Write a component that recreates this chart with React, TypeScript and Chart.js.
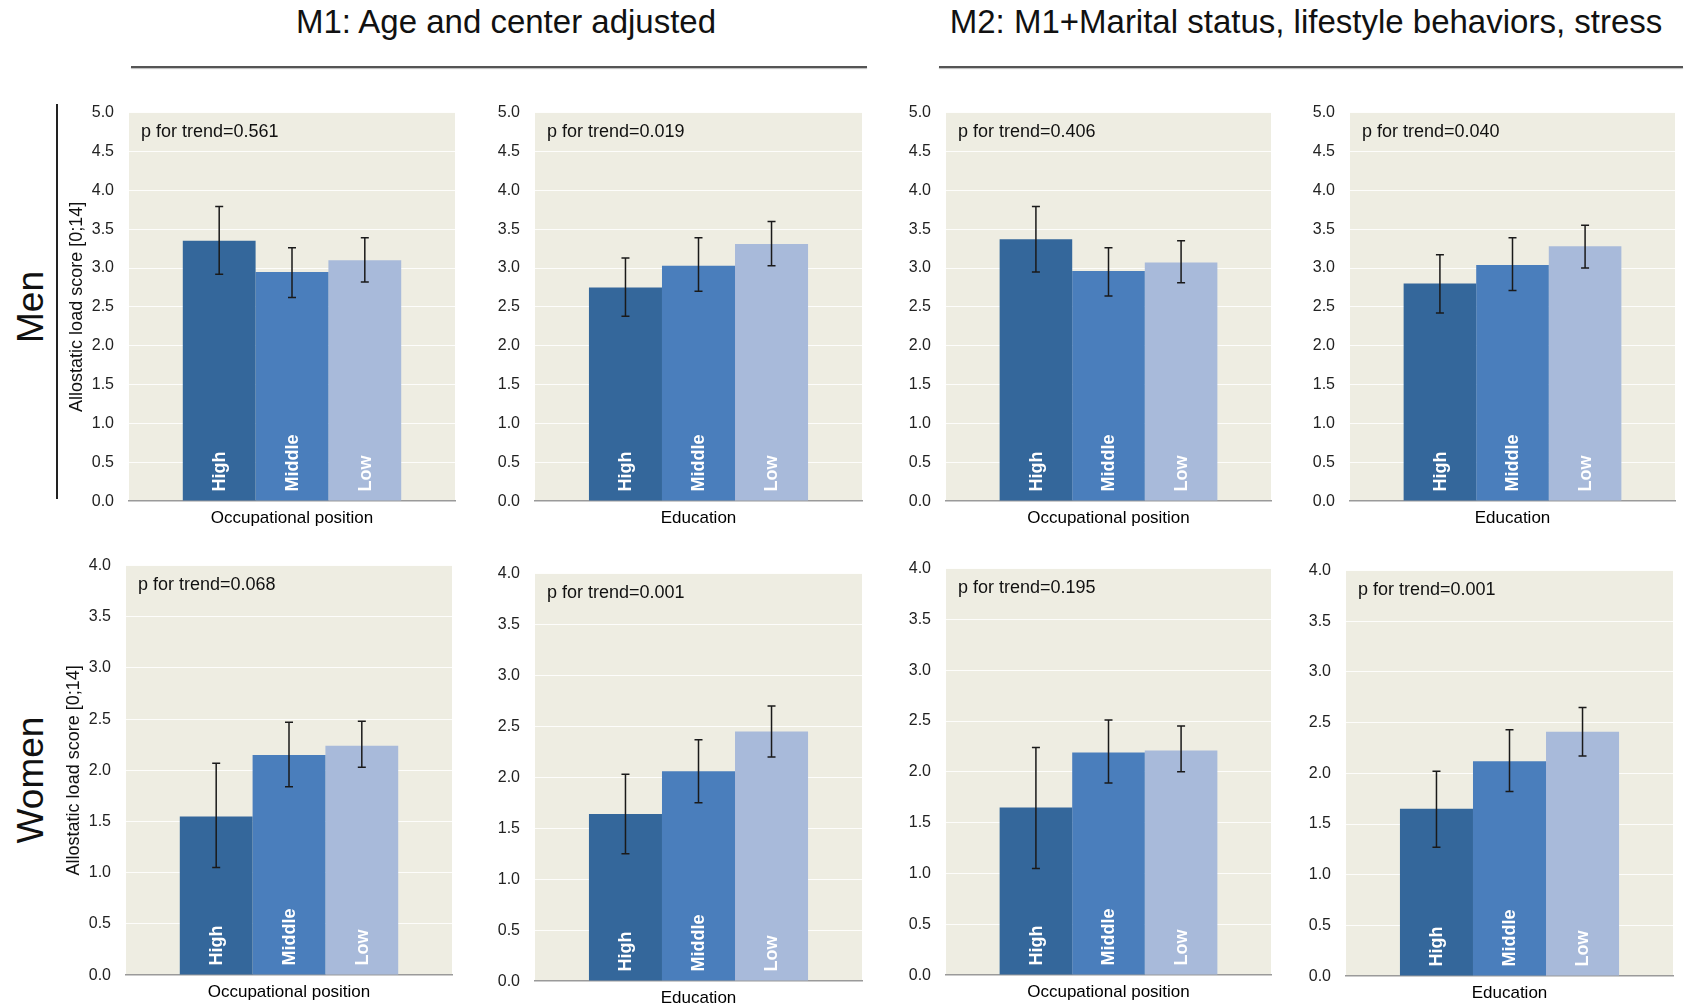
import React, { useEffect, useRef } from "react";
import { Chart, registerables } from "chart.js";

Chart.register(...registerables);

const groups = ["High", "Middle", "Low"];
const groupColors = ["#34679B", "#4A7EBC", "#A8BADA"];
const yTitle = "Allostatic load score [0;14]";
const xOcc = "Occupational position";
const xEdu = "Education";

// Men, M1
const menM1Occ = [3.35, 2.95, 3.1];
const menM1OccLo = [2.92, 2.62, 2.82];
const menM1OccHi = [3.79, 3.26, 3.39];
const menM1Edu = [2.75, 3.03, 3.31];
const menM1EduLo = [2.38, 2.7, 3.03];
const menM1EduHi = [3.13, 3.39, 3.6];
// Men, M2
const menM2Occ = [3.37, 2.96, 3.07];
const menM2OccLo = [2.95, 2.64, 2.81];
const menM2OccHi = [3.79, 3.26, 3.35];
const menM2Edu = [2.8, 3.04, 3.28];
const menM2EduLo = [2.42, 2.71, 3.0];
const menM2EduHi = [3.17, 3.39, 3.55];
// Women, M1
const womenM1Occ = [1.55, 2.15, 2.24];
const womenM1OccLo = [1.05, 1.84, 2.03];
const womenM1OccHi = [2.07, 2.47, 2.48];
const womenM1Edu = [1.64, 2.06, 2.45];
const womenM1EduLo = [1.25, 1.75, 2.2];
const womenM1EduHi = [2.03, 2.37, 2.7];
// Women, M2
const womenM2Occ = [1.65, 2.19, 2.21];
const womenM2OccLo = [1.05, 1.89, 2.0];
const womenM2OccHi = [2.24, 2.51, 2.45];
const womenM2Edu = [1.65, 2.12, 2.41];
const womenM2EduLo = [1.27, 1.82, 2.17];
const womenM2EduHi = [2.02, 2.43, 2.65];

const pMen = ["p for trend=0.561", "p for trend=0.019", "p for trend=0.406", "p for trend=0.040"];
const pWomen = ["p for trend=0.068", "p for trend=0.001", "p for trend=0.195", "p for trend=0.001"];

const FONT = "'Liberation Sans', Arial, sans-serif";

type PanelProps = {
  left: number;
  top: number;
  right: number;
  bottom: number;
  yMax: number;
  values: number[];
  lo: number[];
  hi: number[];
  xLabel: string;
  pText: string;
  showYTitle: boolean;
};

function Panel(p: PanelProps) {
  const ref = useRef<HTMLCanvasElement | null>(null);
  const wrap = useRef<HTMLDivElement | null>(null);
  const yw = p.showYTitle ? 66 : 50;
  const xh = 32;
  const cLeft = p.left - yw;
  const cTop = p.top - 14;
  const cW = p.right - cLeft + 6;
  const cH = p.bottom + xh - cTop;

  useEffect(() => {
    if (!ref.current || !wrap.current) return;
    const deco = {
      id: "deco",
      beforeDraw(chart: any) {
        const { ctx, chartArea } = chart;
        ctx.save();
        ctx.fillStyle = "#EEEDE2";
        ctx.fillRect(chartArea.left, chartArea.top, chartArea.right - chartArea.left, chartArea.bottom - chartArea.top);
        ctx.restore();
      },
      afterDatasetsDraw(chart: any) {
        const { ctx } = chart;
        const ys = chart.scales.y;
        ctx.save();
        for (let i = 0; i < groups.length; i++) {
          const bar = chart.getDatasetMeta(i).data[0] as any;
          if (!bar) continue;
          ctx.save();
          ctx.translate(bar.x, bar.base - 9);
          ctx.rotate(-Math.PI / 2);
          ctx.fillStyle = "#ffffff";
          ctx.font = `bold 18px ${FONT}`;
          ctx.textAlign = "left";
          ctx.textBaseline = "middle";
          ctx.fillText(groups[i], 0, 1);
          ctx.restore();
          const yl = ys.getPixelForValue(p.lo[i]);
          const yh = ys.getPixelForValue(p.hi[i]);
          ctx.strokeStyle = "#1a1a1a";
          ctx.lineWidth = 1.5;
          ctx.beginPath();
          ctx.moveTo(bar.x, yl);
          ctx.lineTo(bar.x, yh);
          ctx.moveTo(bar.x - 4, yl);
          ctx.lineTo(bar.x + 4, yl);
          ctx.moveTo(bar.x - 4, yh);
          ctx.lineTo(bar.x + 4, yh);
          ctx.stroke();
        }
        ctx.restore();
      },
      afterDraw(chart: any) {
        const { ctx, chartArea } = chart;
        ctx.save();
        ctx.fillStyle = "#111";
        ctx.font = `18px ${FONT}`;
        ctx.textAlign = "left";
        ctx.textBaseline = "middle";
        ctx.fillText(p.pText, chartArea.left + 12, chartArea.top + 19);
        ctx.restore();
      },
    };

    const chart = new Chart(ref.current, {
      type: "bar",
      data: {
        labels: [p.xLabel],
        datasets: groups.map((g, i) => ({
          label: g,
          data: [p.values[i]],
          backgroundColor: groupColors[i],
          borderWidth: 0,
          categoryPercentage: 0.67,
          barPercentage: 1.0,
        })),
      },
      options: {
        animation: false,
        responsive: false,
        maintainAspectRatio: false,
        layout: { padding: { top: 6, right: 6, left: 0, bottom: 0 } },
        plugins: { legend: { display: false }, tooltip: { enabled: false }, title: { display: false } },
        scales: {
          x: {
            type: "category",
            grid: { display: false, drawTicks: false },
            border: { display: true, color: "#9a9a9a", width: 1.5 },
            ticks: { font: { family: FONT, size: 17 }, color: "#000", padding: 7 },
            afterFit: (s: any) => {
              s.height = xh;
            },
          },
          y: {
            min: 0,
            max: p.yMax,
            ticks: {
              stepSize: 0.5,
              callback: (v: any) => Number(v).toFixed(1),
              font: { family: FONT, size: 16 },
              color: "#222",
              padding: 15,
            },
            grid: { color: "rgba(255,255,255,0.85)", lineWidth: 1, drawTicks: false },
            border: { display: false },
            title: {
              display: p.showYTitle,
              text: yTitle,
              font: { family: FONT, size: 18 },
              color: "#111",
              padding: { top: 3, bottom: 0 },
            },
            afterFit: (s: any) => {
              s.width = yw;
            },
          },
        },
      },
      plugins: [deco],
    } as any);

    // align the plot area with the intended rectangle on the page
    const ca = chart.chartArea;
    const topOff = ca.top;
    const botOff = chart.height - ca.bottom;
    const leftOff = ca.left;
    const rightOff = chart.width - ca.right;
    const newW = p.right - p.left + leftOff + rightOff;
    const newH = p.bottom - p.top + topOff + botOff;
    wrap.current.style.left = p.left - leftOff + "px";
    wrap.current.style.top = p.top - topOff + "px";
    wrap.current.style.width = newW + "px";
    wrap.current.style.height = newH + "px";
    chart.resize(newW, newH);

    return () => chart.destroy();
  }, []);

  return (
    <div ref={wrap} style={{ position: "absolute", left: cLeft, top: cTop, width: cW, height: cH }}>
      <canvas ref={ref} width={cW} height={cH} style={{ width: cW, height: cH }} />
    </div>
  );
}

const topY = { top: 112.5, bottom: 501 };
const cols = [
  { left: 129, right: 455 },
  { left: 535, right: 862 },
  { left: 946, right: 1271 },
  { left: 1350, right: 1675 },
];
const botRows = [
  { left: 126, right: 452, top: 565.5, bottom: 975 },
  { left: 535, right: 862, top: 573.5, bottom: 981 },
  { left: 946, right: 1271, top: 568.5, bottom: 975 },
  { left: 1346, right: 1673, top: 570.5, bottom: 976 },
];

export default function App() {
  const men = [
    [menM1Occ, menM1OccLo, menM1OccHi, xOcc],
    [menM1Edu, menM1EduLo, menM1EduHi, xEdu],
    [menM2Occ, menM2OccLo, menM2OccHi, xOcc],
    [menM2Edu, menM2EduLo, menM2EduHi, xEdu],
  ] as any[];
  const women = [
    [womenM1Occ, womenM1OccLo, womenM1OccHi, xOcc],
    [womenM1Edu, womenM1EduLo, womenM1EduHi, xEdu],
    [womenM2Occ, womenM2OccLo, womenM2OccHi, xOcc],
    [womenM2Edu, womenM2EduLo, womenM2EduHi, xEdu],
  ] as any[];

  const titleStyle: React.CSSProperties = {
    position: "absolute",
    top: 3,
    transform: "translateX(-50%)",
    fontFamily: FONT,
    fontSize: 33,
    lineHeight: "38px",
    color: "#111",
    whiteSpace: "nowrap",
  };
  const rowLabel: React.CSSProperties = {
    position: "absolute",
    transform: "translate(-50%, -50%) rotate(-90deg)",
    fontFamily: FONT,
    fontSize: 37,
    color: "#111",
    whiteSpace: "nowrap",
  };

  return (
    <div style={{ position: "absolute", left: 0, top: 0, width: 1689, height: 1006, background: "#fff", overflow: "hidden" }}>
      <div style={{ ...titleStyle, left: 506 }}>M1: Age and center adjusted</div>
      <div style={{ ...titleStyle, left: 1306 }}>M2: M1+Marital status, lifestyle behaviors, stress</div>
      <div style={{ position: "absolute", left: 131, top: 66, width: 736, height: 2, background: "#555", boxShadow: "0 1px 1px #bbb" }} />
      <div style={{ position: "absolute", left: 939, top: 66, width: 744, height: 2, background: "#555", boxShadow: "0 1px 1px #bbb" }} />
      <div style={{ ...rowLabel, left: 31, top: 307 }}>Men</div>
      <div style={{ ...rowLabel, left: 31, top: 780 }}>Women</div>
      <div style={{ position: "absolute", left: 56, top: 104, width: 2, height: 395, background: "#222" }} />
      {men.map((m, i) => (
        <Panel
          key={"m" + i}
          left={cols[i].left}
          right={cols[i].right}
          top={topY.top}
          bottom={topY.bottom}
          yMax={5}
          values={m[0]}
          lo={m[1]}
          hi={m[2]}
          xLabel={m[3]}
          pText={pMen[i]}
          showYTitle={i === 0}
        />
      ))}
      {women.map((w, i) => (
        <Panel
          key={"w" + i}
          left={botRows[i].left}
          right={botRows[i].right}
          top={botRows[i].top}
          bottom={botRows[i].bottom}
          yMax={4}
          values={w[0]}
          lo={w[1]}
          hi={w[2]}
          xLabel={w[3]}
          pText={pWomen[i]}
          showYTitle={i === 0}
        />
      ))}
    </div>
  );
}
